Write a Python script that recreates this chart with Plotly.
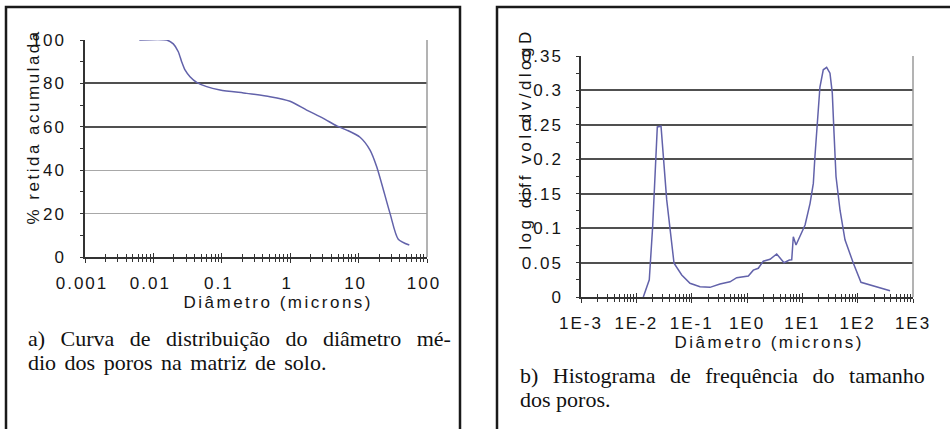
import plotly.graph_objects as go

# ---------------- data: (a) cumulative curve ----------------
diam_a = [0.00622, 0.01563, 0.01954, 0.02312, 0.02588, 0.02897, 0.03428, 0.04295,
          0.0601, 0.0942, 0.231, 0.507, 0.993, 1.74, 3.05, 4.79, 6.70, 10.5,
          14.7, 18.4, 28.8, 38.0, 55.1]
ret_a = [100, 100, 98.2, 94.6, 90, 86.2, 83.1, 80.5,
         78.5, 77.0, 75.4, 73.9, 71.8, 67.7, 63.9, 60.4, 58.5, 55.2,
         49.3, 41.6, 20.1, 8.2, 5.5]

# ---------------- data: (b) frequency histogram ----------------
diam_b = [0.01337, 0.01714, 0.01972, 0.02393, 0.02793, 0.0354, 0.048, 0.0661,
          0.0933, 0.1416, 0.2143, 0.325, 0.493, 0.652, 1.057, 1.30, 1.60, 1.97,
          2.61, 3.44, 4.67, 5.82, 6.43, 6.87, 7.69, 9.08, 10.4, 11.2, 13.8,
          15.8, 16.9, 18.7, 20.8, 23.9, 27.5, 31.6, 34.8, 37.4, 40.6, 48.0,
          59.0, 83.6, 114.8, 384.6]
freq_b = [0.0, 0.025, 0.102, 0.247, 0.248, 0.141, 0.049, 0.032,
          0.020, 0.015, 0.014, 0.019, 0.022, 0.028, 0.0305, 0.039, 0.0417, 0.052,
          0.0547, 0.0624, 0.0498, 0.0537, 0.054, 0.0876, 0.0755, 0.088, 0.097, 0.1046, 0.136,
          0.165, 0.204, 0.262, 0.305, 0.330, 0.3335, 0.325, 0.296, 0.238, 0.175, 0.126,
          0.083, 0.049, 0.0213, 0.0092]

# ---------------- ticks ----------------
xa_tickvals = [0.001, 0.01, 0.1, 1, 10, 100]
xa_ticktext = ["0.001", "0.01", "0.1", "1", "10", "100"]
ya_tickvals = [0, 20, 40, 60, 80, 100]
ya_dark_grid = [60, 80, 100]
xb_tickvals = [1e-3, 1e-2, 1e-1, 1, 10, 100, 1000]
xb_ticktext = ["1E-3", "1E-2", "1E-1", "1E0", "1E1", "1E2", "1E3"]
yb_tickvals = [0, 0.05, 0.1, 0.15, 0.2, 0.25, 0.3, 0.35]
yb_ticktext = ["0", "0.05", "0.1", "0.15", "0.2", "0.25", "0.3", "0.35"]

title_x = "Diâmetro (microns)"
title_ya = "% retida acumulada"
title_yb = "log diff vol.dv/dlogD"
cap_a = ["a) Curva de distribuição do diâmetro mé-", "dio dos poros na matriz de solo."]
cap_b = ["b) Histograma de frequência do tamanho", "dos poros."]

W, H = 950, 429
LINE = "#6262aa"
AX = "#333333"
TXT = "#151515"
SANS = "Liberation Sans, Arial, sans-serif"
SERIF = "Liberation Serif, Times New Roman, serif"

def px(x):
    return x / W

def py(y):
    return 1 - y / H

dom_xa = [px(85), px(427)]
dom_ya = [py(257), py(40)]
dom_xb = [px(581), px(913)]
dom_yb = [py(297), py(56)]

fig = go.Figure()
fig.add_trace(go.Scatter(x=diam_a, y=ret_a, mode="lines", xaxis="x", yaxis="y",
                         line=dict(color=LINE, width=1.5, shape="spline", smoothing=0.7),
                         showlegend=False, hoverinfo="skip"))
fig.add_trace(go.Scatter(x=diam_b, y=freq_b, mode="lines", xaxis="x2", yaxis="y2",
                         line=dict(color=LINE, width=1.5),
                         showlegend=False, hoverinfo="skip"))
# empty traces to activate overlay axes (inside ticks / darker grid)
fig.add_trace(go.Scatter(x=[], y=[], xaxis="x3", yaxis="y", showlegend=False, hoverinfo="skip"))
fig.add_trace(go.Scatter(x=[], y=[], xaxis="x4", yaxis="y2", showlegend=False, hoverinfo="skip"))
fig.add_trace(go.Scatter(x=[], y=[], xaxis="x", yaxis="y5", showlegend=False, hoverinfo="skip"))

tickfont = dict(family=SANS, size=17, color=TXT)

def xaxis_main(dom, rng, tv, tt, anchor, shift):
    return dict(type="log", range=rng, domain=dom, anchor=anchor, tickmode="array",
                tickvals=tv, ticktext=tt, ticks="outside", ticklen=4, tickwidth=1.2,
                tickcolor=AX, showline=True, linecolor=AX, linewidth=1.5,
                showgrid=False, zeroline=False, tickfont=tickfont, ticklabelstandoff=6,
                ticklabelshift=shift, automargin=False,
                minor=dict(tickmode="linear", dtick="D1", ticks="outside", ticklen=3,
                           tickcolor=AX, tickwidth=1, showgrid=False))

def xaxis_over(rng, tv, over, anchor):
    return dict(type="log", range=rng, overlaying=over, anchor=anchor, side="bottom",
                tickmode="array", tickvals=tv, ticks="inside", ticklen=4, tickwidth=1.2,
                tickcolor=AX, showticklabels=False, showline=False, showgrid=False,
                zeroline=False, automargin=False,
                minor=dict(tickmode="linear", dtick="D1", ticks="inside", ticklen=3,
                           tickcolor=AX, tickwidth=1, showgrid=False))

fig.update_layout(
    width=W, height=H, autosize=False,
    margin=dict(l=0, r=0, t=0, b=0, pad=0, autoexpand=False),
    paper_bgcolor="white", plot_bgcolor="rgba(0,0,0,0)", showlegend=False,
    xaxis=xaxis_main(dom_xa, [-3, 2], xa_tickvals, xa_ticktext, "y", -3),
    xaxis3=xaxis_over([-3, 2], xa_tickvals, "x", "y"),
    xaxis2=xaxis_main(dom_xb, [-3, 3], xb_tickvals, xb_ticktext, "y2", 0),
    xaxis4=xaxis_over([-3, 3], xb_tickvals, "x2", "y2"),
    yaxis=dict(range=[0, 100], domain=dom_ya, anchor="x", tickmode="array",
               tickvals=ya_tickvals, ticks="outside", ticklen=3, tickcolor=AX,
               showline=True, linecolor=AX, linewidth=1.5, showgrid=True,
               gridcolor="#a8a8a8", gridwidth=1.2, zeroline=False, tickfont=tickfont,
               ticklabelstandoff=11, automargin=False,
               minor=dict(tickmode="linear", tick0=0, dtick=10, ticks="outside",
                          ticklen=3, tickcolor=AX, showgrid=False)),
    yaxis5=dict(range=[0, 100], overlaying="y", anchor="x", tickmode="array",
                tickvals=ya_dark_grid, ticks="", showticklabels=False, showline=False,
                showgrid=True, gridcolor="#505050", gridwidth=1.5, zeroline=False,
                automargin=False),
    yaxis2=dict(range=[0, 0.35], domain=dom_yb, anchor="x2", tickmode="array",
                tickvals=yb_tickvals, ticktext=yb_ticktext, ticks="outside", ticklen=3,
                tickcolor=AX, showline=True, linecolor=AX, linewidth=1.5, showgrid=True,
                gridcolor="#505050", gridwidth=1.5, zeroline=False, tickfont=tickfont,
                ticklabelstandoff=10, automargin=False,
                minor=dict(tickmode="linear", tick0=0, dtick=0.025, ticks="outside",
                           ticklen=3, tickcolor=AX, showgrid=False)),
)

# plot-area right borders (gray), in paper coords
for xr, ylo, yhi in ((427, 40, 257), (913, 56, 297)):
    fig.add_shape(type="line", xref="paper", yref="paper", x0=px(xr), x1=px(xr),
                  y0=py(yhi), y1=py(ylo), line=dict(color="#9a9a9a", width=1.5))

# panel frames
fig.add_shape(type="rect", xref="paper", yref="paper", x0=px(6), x1=px(460),
              y0=-0.05, y1=py(7), line=dict(color="#1a1a1a", width=2.5))
fig.add_shape(type="rect", xref="paper", yref="paper", x0=px(497), x1=1.02,
              y0=-0.05, y1=py(7), line=dict(color="#1a1a1a", width=2.5))

labfont = dict(family=SANS, size=17, color=TXT)
capfont = dict(family=SERIF, size=22, color="#111111")
ann = [
    dict(text=title_x, x=px(278), y=py(302), font=labfont),
    dict(text=title_ya, x=px(33), y=py(127), font=labfont, textangle=-90),
    dict(text=title_x, x=px(769), y=py(342), font=labfont),
    dict(text=title_yb, x=px(525), y=py(139), font=labfont, textangle=-90),
    dict(text=cap_a[0], x=px(27), y=py(338), font=capfont, xanchor="left", align="left"),
    dict(text=cap_a[1], x=px(27), y=py(362), font=capfont, xanchor="left", align="left"),
    dict(text=cap_b[0], x=px(519), y=py(375), font=capfont, xanchor="left", align="left"),
    dict(text=cap_b[1], x=px(519), y=py(399), font=capfont, xanchor="left", align="left"),
]
for a in ann:
    a.setdefault("xanchor", "center")
    fig.add_annotation(xref="paper", yref="paper", yanchor="middle", showarrow=False,
                       borderpad=0, **a)

post = """
var css = 'g[class$="tick"] > text{letter-spacing:2px;}'
 + '.annotation[data-index="0"] text,.annotation[data-index="1"] text,.annotation[data-index="2"] text{letter-spacing:2.5px;}'
 + '.annotation[data-index="3"] text{letter-spacing:3.5px;}'
 + '.annotation[data-index="4"] text{word-spacing:10px;}'
 + '.annotation[data-index="5"] text{word-spacing:3px;}'
 + '.annotation[data-index="6"] text{word-spacing:9px;}';
var st = document.createElement('style'); st.textContent = css; document.head.appendChild(st);
"""

fig.write_html("out.html", post_script=post)
